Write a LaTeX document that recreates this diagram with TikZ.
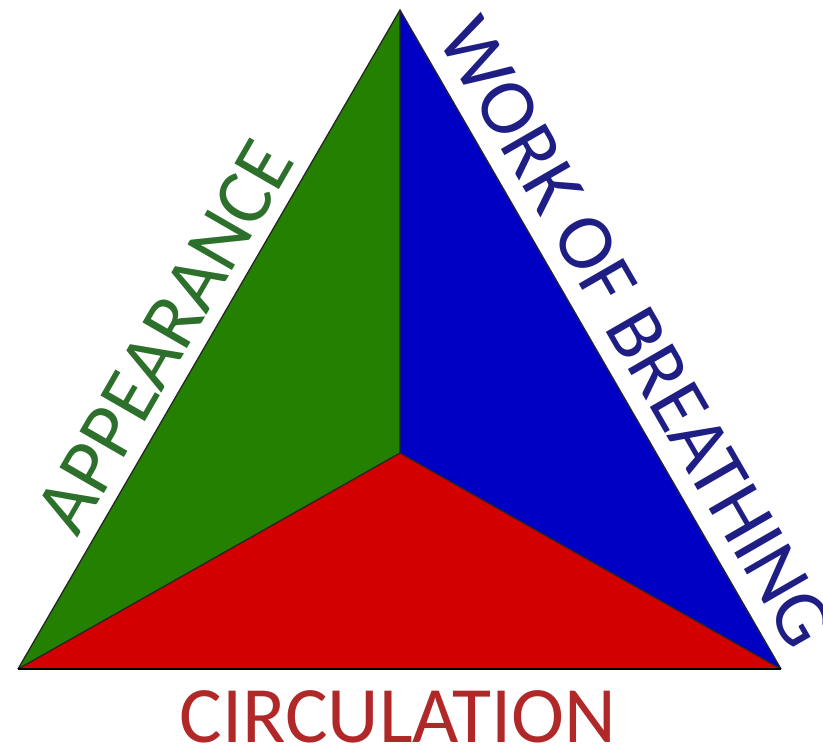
\documentclass[tikz,border=0pt]{standalone}
\usepackage{fontspec}
\setmainfont{Carlito}
\usetikzlibrary{calc}
\definecolor{appgreen}{RGB}{36,128,0}
\definecolor{wobblue}{RGB}{0,0,196}
\definecolor{circred}{RGB}{210,0,0}
\definecolor{appgreentext}{RGB}{44,112,44}
\definecolor{wobbluetext}{RGB}{30,30,132}
\definecolor{circredtext}{RGB}{176,40,40}
\definecolor{baseline}{RGB}{150,40,40}

\begin{document}
\begin{tikzpicture}[x=1pt, y=-1pt,
    sidetext/.style={font=\fontsize{80}{82}\selectfont, inner sep=0pt, anchor=base},
    edge/.style={line width=1.3pt, color=black!85}]
    \useasboundingbox (0,0) rectangle (823,750);
    \coordinate (T) at (400,10);
    \coordinate (L) at (18,669);
    \coordinate (R) at (781,669);
    \coordinate (C) at (400,453);

    % the three parts
    \fill[appgreen] (T) -- (L) -- (C) -- cycle;
    \fill[wobblue] (T) -- (C) -- (R) -- cycle;
    \fill[circred] (L) -- (C) -- (R) -- cycle;
    \draw[edge] (T) -- (C) (L) -- (C) -- (R);
    \draw[edge] (L) -- (T) -- (R);
    \draw[baseline, line width=2.5pt] (L) -- (R);

    % labels
    \node[sidetext, color=appgreentext, rotate=60] (appear) at ($(L)!0.5!(T)+(-22,10)$) {APPEARANCE};
    \node[sidetext, color=wobbluetext, rotate=-60] (work) at ($(T)!0.5!(R)+(24,6)$) {WORK OF BREATHING};
    \node[sidetext, color=circredtext] (circ) at (398,742) {CIRCULATION};
\end{tikzpicture}
\end{document}
